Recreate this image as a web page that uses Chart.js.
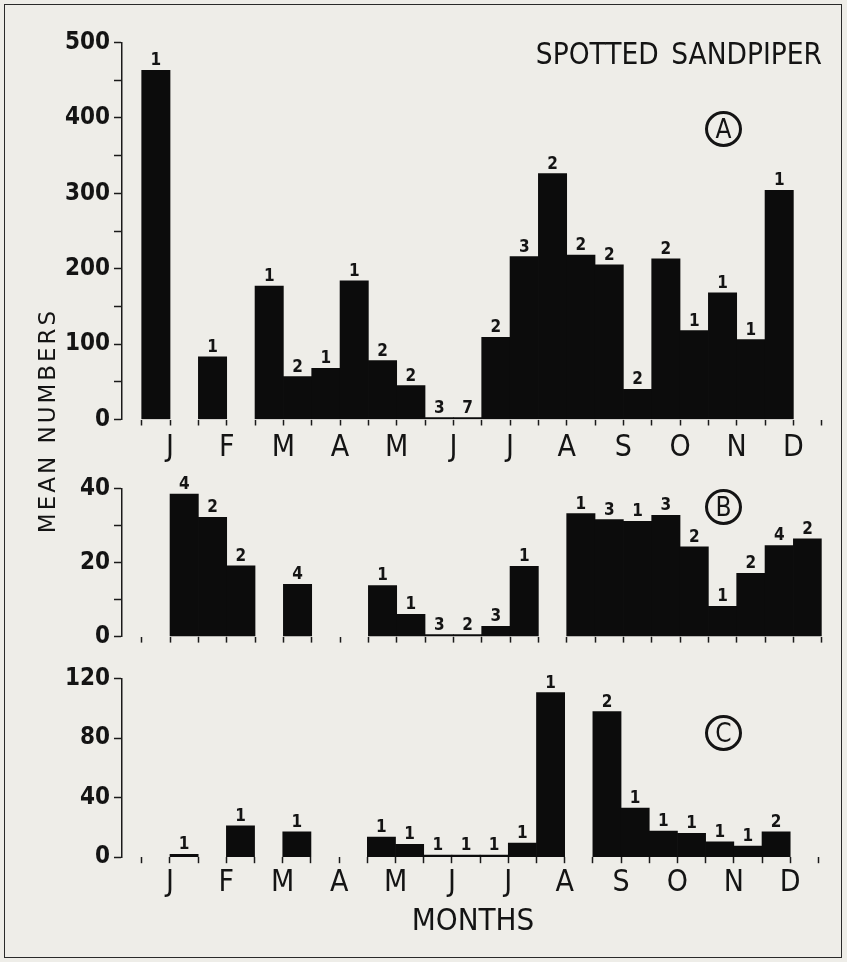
<!DOCTYPE html>
<html>
<head>
<meta charset="utf-8">
<title>Spotted Sandpiper</title>
<script src="https://cdn.jsdelivr.net/npm/chart.js@4.4.1/dist/chart.umd.min.js"></script>
<style>
  html, body { margin: 0; padding: 0; background: #eeede8; }
  #page { position: relative; width: 847px; height: 962px; overflow: hidden; background: #eeede8; }
  #frame { position: absolute; left: 4px; top: 4px; width: 838px; height: 954px;
           border: 1.5px solid #2a2a2a; box-sizing: border-box; }
  canvas { position: absolute; left: 0; }
  .txt { position: absolute; color: #141414; line-height: 1; white-space: nowrap;
         font-family: "DejaVu Sans Condensed", "DejaVu Sans", sans-serif; }
  #title { right: 25px; top: 40px; font-size: 29.5px; word-spacing: 4px; }
  #months { left: 0; width: 946px; text-align: center; top: 904px; font-size: 31px; }
  #ylabel { font-family: "DejaVu Sans", sans-serif; font-size: 23px; letter-spacing: 3px;
            width: 260px; left: -83px; top: 409px; text-align: center; transform: rotate(-90deg); }
  .circ { position: absolute; width: 37px; height: 36px; border: 3px solid #141414; border-radius: 50%;
          box-sizing: border-box; display: flex; align-items: center; justify-content: center;
          font-family: "DejaVu Sans Condensed", "DejaVu Sans", sans-serif; font-size: 26px; line-height: 1; color: #141414; }
</style>
</head>
<body>
<div id="page">
  <canvas id="panelA" width="847" height="480" style="top:0px"></canvas>
  <canvas id="panelB" width="847" height="190" style="top:470px"></canvas>
  <canvas id="panelC" width="847" height="262" style="top:660px"></canvas>
  <div id="frame"></div>
  <div class="txt" id="title">SPOTTED SANDPIPER</div>
  <div class="txt" id="ylabel">MEAN NUMBERS</div>
  <div class="txt" id="months">MONTHS</div>
  <div class="circ" style="left:705px; top:111px;">A</div>
  <div class="circ" style="left:705px; top:489px;">B</div>
  <div class="circ" style="left:705px; top:715px;">C</div>
</div>
<script>
// Half-month periods: index 0 = first half of January ... 23 = second half of December
const SLOTS = 24;
const monthLetters = ['J', 'F', 'M', 'A', 'M', 'J', 'J', 'A', 'S', 'O', 'N', 'D'];

// Panel A
const meansA  = [463, null, 83, null, 177, 57, 68, 184, 78, 45, 0, 0, 109, 216, 326, 218, 205, 40, 213, 118, 168, 106, 304, null];
const countsA = [1, null, 1, null, 1, 2, 1, 1, 2, 2, 3, 7, 2, 3, 2, 2, 2, 2, 2, 1, 1, 1, 1, null];
const yLabelsA = [0, 100, 200, 300, 400, 500];
const yStepA = 50;

// Panel B
const meansB  = [null, 38.5, 32.2, 19.1, null, 14.1, null, null, 13.8, 6, 0, 0, 2.8, 19, null, 33.2, 31.6, 31.1, 32.7, 24.2, 8.2, 17.1, 24.6, 26.4];
const countsB = [null, 4, 2, 2, null, 4, null, null, 1, 1, 3, 2, 3, 1, null, 1, 3, 1, 3, 2, 1, 2, 4, 2];
const yLabelsB = [0, 20, 40];
const yStepB = 10;

// Panel C
const meansC  = [null, 2, null, 21, null, 17, null, null, 13.5, 8.7, 0, 0, 0, 9.5, 110.5, null, 97.7, 33, 17.5, 16, 10.3, 7.4, 17, null];
const countsC = [null, 1, null, 1, null, 1, null, null, 1, 1, 1, 1, 1, 1, 1, null, 2, 1, 1, 1, 1, 1, 2, null];
const yLabelsC = [0, 40, 80, 120];
const yStepC = 20;

const FONT = '"DejaVu Sans Condensed", "DejaVu Sans", sans-serif';
const INK = '#141414';

function makePanel(id, means, counts, yLabels, yStep, showMonths, area) {
  const yMax = yLabels[yLabels.length - 1];
  const yTickVals = [];
  for (let v = 0; v <= yMax + 1e-9; v += yStep) yTickVals.push(v);
  const boundaries = Array.from({ length: SLOTS + 1 }, (_, i) => i);

  // sample-size numbers printed above each bar
  const countLabels = {
    id: 'countLabels',
    afterDatasetsDraw(chart) {
      const ctx = chart.ctx;
      const meta = chart.getDatasetMeta(0);
      ctx.save();
      ctx.fillStyle = INK;
      ctx.font = 'bold 17px ' + FONT;
      ctx.textAlign = 'center';
      ctx.textBaseline = 'alphabetic';
      meta.data.forEach((bar, i) => {
        if (means[i] === null || counts[i] === null) return;
        const top = Math.min(bar.y, bar.base);
        ctx.fillText(String(counts[i]), bar.x, top - 5);
      });
      ctx.restore();
    }
  };

  return new Chart(document.getElementById(id), {
    type: 'bar',
    data: {
      datasets: [{
        data: means.map((v, i) => ({ x: i + 0.5, y: v })),
        backgroundColor: '#0c0c0c',
        borderWidth: 0,
        barPercentage: 1,
        categoryPercentage: 1,
        minBarLength: 2
      }]
    },
    options: {
      responsive: false,
      animation: false,
      devicePixelRatio: 1,
      layout: { padding: { left: 0, right: area.right, top: area.top, bottom: 0 } },
      plugins: { legend: { display: false }, tooltip: { enabled: false } },
      scales: {
        x: {
          type: 'linear',
          min: area.xMin,
          max: SLOTS,
          offset: false,
          afterBuildTicks: s => { s.ticks = boundaries.map(v => ({ value: v })); },
          afterFit: s => { s.height = area.xHeight; },
          border: { display: false },
          grid: { offset: false, drawOnChartArea: false, drawTicks: true, tickLength: 6, tickWidth: 1.5, tickColor: '#1a1a1a' },
          ticks: {
            autoSkip: false, maxRotation: 0, minRotation: 0, padding: area.monthPad,
            color: INK, font: { family: FONT, size: 30 },
            callback: v => (showMonths && v % 2 === 1) ? monthLetters[(v - 1) / 2] : ''
          }
        },
        y: {
          min: 0,
          max: yMax,
          afterBuildTicks: s => { s.ticks = yTickVals.map(v => ({ value: v })); },
          afterFit: s => { s.width = area.yWidth; },
          border: { display: true, color: '#1a1a1a', width: 1.5 },
          grid: { drawOnChartArea: false, drawTicks: true, tickLength: 7.5, tickWidth: 1.5, tickColor: '#1a1a1a' },
          ticks: {
            padding: 4, color: INK, font: { family: FONT, size: 24, weight: 'bold' },
            callback: v => yLabels.includes(v) ? String(v) : ''
          }
        }
      }
    },
    plugins: [countLabels]
  });
}

makePanel('panelA', meansA, countsA, yLabelsA, yStepA, true,
  { top: 42.5, right: 25.3, yWidth: 121.5, xHeight: 60.5, xMin: -0.713, monthPad: 4.5 });
makePanel('panelB', meansB, countsB, yLabelsB, yStepB, false,
  { top: 16.7, right: 25.3, yWidth: 121.5, xHeight: 23.4, xMin: -0.713, monthPad: 2 });
makePanel('panelC', meansC, countsC, yLabelsC, yStepC, true,
  { top: 16.7, right: 28.6, yWidth: 121.5, xHeight: 64.8, xMin: -0.72, monthPad: 2.5 });
</script>
</body>
</html>
